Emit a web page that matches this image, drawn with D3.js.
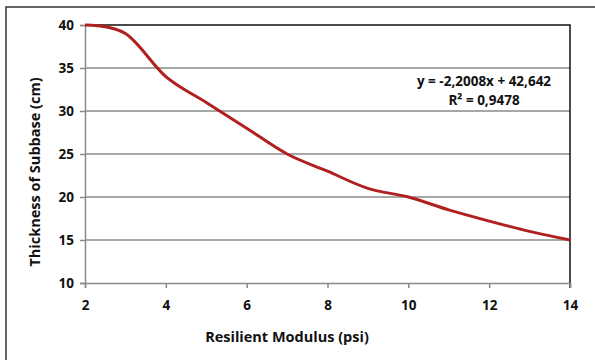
<!DOCTYPE html>
<html lang="en">
    <head>
        <meta charset="utf-8">
        <title>Thickness of Subbase vs Resilient Modulus</title>
        <script src="https://d3js.org/d3.v7.min.js"></script>
        <style type="text/css">
            body { margin: 0; background: #fff; }
            svg { display: block; }
            text {
                font-family: "Open Sans", "Liberation Sans", sans-serif;
                font-weight: 700;
                fill: #111;
            }
        </style>
    </head>
    <body>
        <svg width="595" height="360"></svg>
        <script type="text/javascript">

            // data
            const modulus = [2, 3, 4, 5, 6, 7, 8, 9, 10, 11, 12, 13, 14];
            const thickness = [40, 39, 34, 31, 28, 25, 23, 21, 20, 18.5, 17.2, 16, 15];
            const xTicks = [2, 4, 6, 8, 10, 12, 14];
            const yTicks = [10, 15, 20, 25, 30, 35, 40];
            const eqLines = ["y = -2,2008x + 42,642", "R² = 0,9478"];

            const svg = d3.select("svg");
            const plotL = 85, plotR = 570, plotT = 25, plotB = 283;

            const x = d3.scaleLinear().domain([2, 14]).range([plotL, plotR]);
            const y = d3.scaleLinear().domain([10, 40]).range([plotB, plotT]);

            // outer chart frame (runs off the right and bottom edges)
            svg.append("path")
               .attr("d", "M6,400 L6,7 L600,7")
               .attr("fill", "none")
               .attr("stroke", "#333")
               .attr("stroke-width", 1.5);

            // horizontal gridlines
            svg.append("g")
               .selectAll("line")
               .data(yTicks.filter(d => d > 10 && d < 40))
               .enter()
               .append("line")
               .attr("x1", plotL).attr("x2", plotR)
               .attr("y1", d => y(d)).attr("y2", d => y(d))
               .attr("stroke", "#8a8a8a")
               .attr("stroke-width", 1.5);

            // plot area border on top and right
            svg.append("path")
               .attr("d", `M${plotL},${plotT} L${plotR},${plotT} L${plotR},${plotB + 5}`)
               .attr("fill", "none")
               .attr("stroke", "#111")
               .attr("stroke-width", 1.5);

            // y axis
            const yAxis = svg.append("g")
               .attr("transform", `translate(${plotL},0)`)
               .call(d3.axisLeft(y).tickValues(yTicks).tickSize(5).tickPadding(6));
            yAxis.select(".domain").attr("stroke", "#8a8a8a").attr("stroke-width", 1.5);
            yAxis.selectAll(".tick line").attr("stroke", "#8a8a8a").attr("stroke-width", 1.5);
            yAxis.selectAll(".tick text")
                 .attr("font-size", 13.5)
                 .style("font-family", "'Open Sans', sans-serif")
                 .style("font-weight", 700);

            // x axis
            const xAxis = svg.append("g")
               .attr("transform", `translate(0,${plotB})`)
               .call(d3.axisBottom(x).tickValues(xTicks).tickSize(5).tickPadding(12));
            xAxis.select(".domain").attr("stroke", "#8a8a8a").attr("stroke-width", 1.5);
            xAxis.selectAll(".tick line").attr("stroke", "#8a8a8a").attr("stroke-width", 1.5);
            xAxis.selectAll(".tick text")
                 .attr("font-size", 13.5)
                 .style("font-family", "'Open Sans', sans-serif")
                 .style("font-weight", 700);

            // smoothed data line
            const line = d3.line()
                           .x((d, i) => x(modulus[i]))
                           .y(d => y(d))
                           .curve(d3.curveCatmullRom.alpha(0));

            svg.append("path")
               .datum(thickness)
               .attr("d", line)
               .attr("fill", "none")
               .attr("stroke", "#b0201f")
               .attr("stroke-width", 3);

            // trendline equation
            svg.append("g")
               .selectAll("text")
               .data(eqLines)
               .enter()
               .append("text")
               .attr("x", 484)
               .attr("y", (d, i) => 86 + i * 19)
               .attr("text-anchor", "middle")
               .attr("font-size", 13.5)
               .text(d => d);

            // axis titles
            svg.append("text")
               .attr("x", 287)
               .attr("y", 342)
               .attr("text-anchor", "middle")
               .attr("font-size", 14.5)
               .text("Resilient Modulus (psi)");

            svg.append("text")
               .attr("transform", "translate(40,172) rotate(-90)")
               .attr("text-anchor", "middle")
               .attr("font-size", 14.5)
               .text("Thickness of Subbase (cm)");

        </script>
    </body>
</html>
